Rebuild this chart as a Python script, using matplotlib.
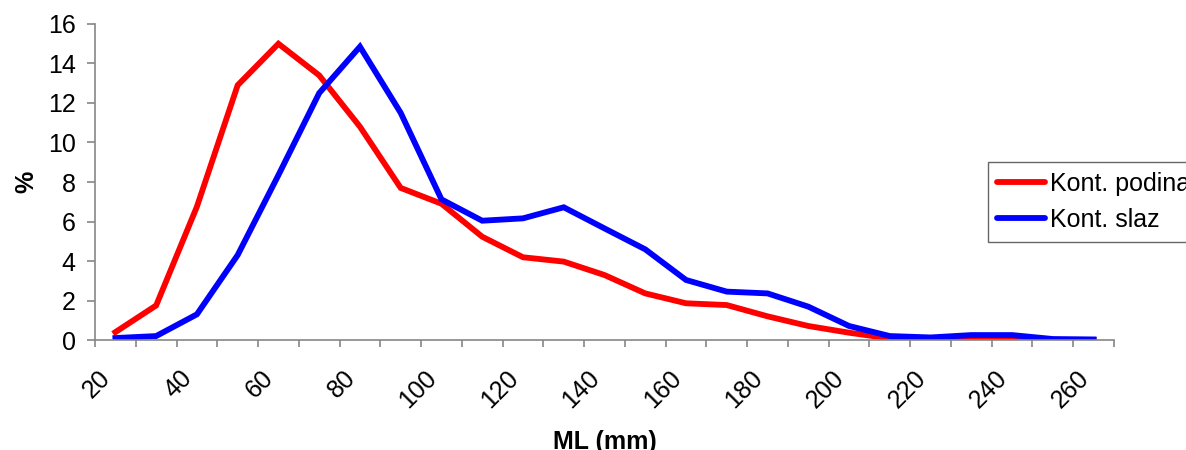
import matplotlib
matplotlib.use('Agg')
import matplotlib.pyplot as plt
import numpy as np

plt.rcParams['font.family'] = ['Liberation Sans', 'DejaVu Sans']

# Kategorije ML (mm), podaci u %
kategorije = [20, 30, 40, 50, 60, 70, 80, 90, 100, 110, 120, 130, 140,
              150, 160, 170, 180, 190, 200, 210, 220, 230, 240, 250, 260]
podina = [0.4, 1.75, 6.75, 12.9, 15.0, 13.4, 10.8, 7.7, 6.9, 5.23, 4.19, 3.97, 3.29,
          2.36, 1.86, 1.77, 1.2, 0.71, 0.37, 0.08, 0.0, 0.03, 0.03, 0.0, 0.0]
slaz = [0.1, 0.2, 1.3, 4.3, 8.35, 12.5, 14.85, 11.5, 7.12, 6.04, 6.16, 6.72, 5.65,
        4.59, 3.04, 2.45, 2.36, 1.69, 0.71, 0.2, 0.13, 0.25, 0.25, 0.05, 0.03]
naziv_podina = 'Kont. podina'
naziv_slaz = 'Kont. slaz'

fig = plt.figure(figsize=(11.86, 4.5), dpi=100)
ax = fig.add_axes([0.0801, 0.2444, 0.8592, 0.7023])

x = np.arange(len(kategorije))
ax.plot(x, podina, color='#FF0000', lw=4.2, label=naziv_podina, solid_joinstyle='miter')
ax.plot(x, slaz, color='#0000FF', lw=4.2, label=naziv_slaz, solid_joinstyle='miter')

ax.set_xlim(-0.5, len(kategorije) - 0.5)
ax.set_ylim(0, 16)
ax.set_yticks(np.arange(0, 17, 2))

# oznake kao u Excelu: crtice između kategorija, natpisi svaka druga kategorija
ax.set_xticks(np.arange(-0.5, len(kategorije), 1), minor=True)
ax.set_xticks(x[::2])
ax.set_xticklabels([str(k) for k in kategorije[::2]], rotation=45,
                   ha='right', va='bottom', rotation_mode='anchor')

siva = '#868686'
for s in ['top', 'right']:
    ax.spines[s].set_visible(False)
for s in ['left', 'bottom']:
    ax.spines[s].set_color(siva)
    ax.spines[s].set_linewidth(1.2)

ax.tick_params(axis='y', direction='out', length=6, width=1.2, color=siva,
               labelsize=18, pad=8)
ax.tick_params(axis='x', which='major', length=0, labelsize=18, pad=31)
ax.tick_params(axis='x', which='minor', direction='out', length=5, width=1.2, color=siva)

ax.set_ylabel('%', fontsize=18, fontweight='bold')
ax.yaxis.set_label_coords(-0.056, 0.5)
ax.set_xlabel('ML (mm)', fontsize=18, fontweight='bold')
ax.xaxis.set_label_coords(0.5, -0.285)

leg = ax.legend(loc='upper left', bbox_to_anchor=(0.833, 0.64),
                bbox_transform=fig.transFigure, fontsize=18, frameon=True,
                fancybox=False, edgecolor='#404040', borderaxespad=0,
                handlelength=1.9, handletextpad=0.2, labelspacing=0.5,
                borderpad=0.38)
leg.get_frame().set_linewidth(1.0)
for ln in leg.get_lines():
    ln.set_solid_capstyle('round')

fig.savefig('out.png', dpi=100)
